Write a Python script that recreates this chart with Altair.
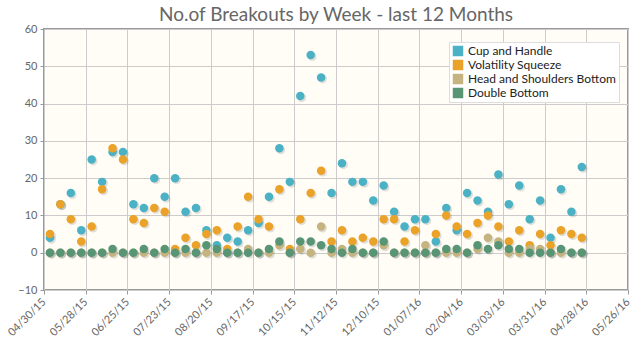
import altair as alt
import pandas as pd

# ---- data ----
weeks = [
    "2015-05-04", "2015-05-11", "2015-05-18", "2015-05-25", "2015-06-01", "2015-06-08",
    "2015-06-15", "2015-06-22", "2015-06-29", "2015-07-06", "2015-07-13", "2015-07-20",
    "2015-07-27", "2015-08-03", "2015-08-10", "2015-08-17", "2015-08-24", "2015-08-31",
    "2015-09-07", "2015-09-14", "2015-09-21", "2015-09-28", "2015-10-05", "2015-10-12",
    "2015-10-19", "2015-10-26", "2015-11-02", "2015-11-09", "2015-11-16", "2015-11-23",
    "2015-11-30", "2015-12-07", "2015-12-14", "2015-12-21", "2015-12-28", "2016-01-04",
    "2016-01-11", "2016-01-18", "2016-01-25", "2016-02-01", "2016-02-08", "2016-02-15",
    "2016-02-22", "2016-02-29", "2016-03-07", "2016-03-14", "2016-03-21", "2016-03-28",
    "2016-04-04", "2016-04-11", "2016-04-18", "2016-04-25",
]
cup_and_handle = [4, 13, 16, 6, 25, 19, 27, 27, 13, 12, 20, 15, 20, 11, 12, 6, 2, 4, 3, 6,
                  8, 15, 28, 19, 42, 53, 47, 16, 24, 19, 19, 14, 18, 11, 7, 9, 9, 3, 12, 6,
                  16, 14, 11, 21, 13, 18, 9, 14, 4, 17, 11, 23]
volatility_squeeze = [5, 13, 9, 3, 7, 17, 28, 25, 9, 8, 12, 11, 1, 4, 2, 5, 6, 1, 7, 15,
                      9, 7, 17, 1, 9, 16, 22, 3, 6, 3, 4, 3, 9, 9, 3, 6, 0, 5, 10, 7,
                      5, 8, 10, 7, 3, 6, 2, 5, 2, 6, 5, 4]
head_shoulders_bottom = [0, 0, 0, 0, 0, 0, 0, 0, 0, 0, 0, 0, 0, 0, 0, 0, 0, 0, 0, 1,
                         0, 0, 2, 0, 1, 0, 7, 0, 1, 0, 0, 0, 2, 0, 0, 0, 2, 0, 0, 0,
                         0, 1, 4, 3, 0, 0, 1, 1, 0, 0, 0, 0]
double_bottom = [0, 0, 0, 0, 0, 0, 1, 0, 0, 1, 0, 1, 0, 1, 0, 2, 1, 0, 0, 0,
                 0, 1, 3, 0, 3, 3, 2, 1, 0, 1, 0, 0, 3, 0, 0, 0, 0, 0, 1, 1,
                 0, 2, 1, 2, 1, 1, 0, 0, 0, 1, 0, 0]

series_names = ["Cup and Handle", "Volatility Squeeze", "Head and Shoulders Bottom", "Double Bottom"]
series_colors = ["#4bb2c5", "#eaa228", "#c5b47f", "#579575"]
series_values = [cup_and_handle, volatility_squeeze, head_shoulders_bottom, double_bottom]

x_ticks = ["2015-04-30", "2015-05-28", "2015-06-25", "2015-07-23", "2015-08-20",
           "2015-09-17", "2015-10-15", "2015-11-12", "2015-12-10", "2016-01-07",
           "2016-02-04", "2016-03-03", "2016-03-31", "2016-04-28", "2016-05-26"]
y_ticks = [-10, 0, 10, 20, 30, 40, 50, 60]
title_text = "No.of Breakouts by Week - last 12 Months"

# ---- table ----
rows = []
for name, vals in zip(series_names, series_values):
    for d, v in zip(weeks, vals):
        rows.append({"week": d, "count": v, "pattern": name})
df = pd.DataFrame(rows)

def ms(s):
    return int(pd.Timestamp(s, tz="UTC").value // 10**6)

tick_ms = [ms(t) for t in x_ticks]

FONT = "Lato"

x_enc = alt.X(
    "week:T",
    scale=alt.Scale(type="utc", domain=[tick_ms[0], tick_ms[-1]]),
    axis=alt.Axis(
        values=tick_ms, format="%m/%d/%y", labelAngle=315, labelAlign="right",
        labelBaseline="middle", labelPadding=6, labelOverlap=False, labelFlush=False,
        labelBound=False, title=None, domain=False, grid=True, gridColor="#cccccc",
        tickColor="#999999", tickSize=4, labelColor="#666666", labelFontSize=11,
        labelFont=FONT,
    ),
)
y_enc = alt.Y(
    "count:Q",
    scale=alt.Scale(domain=[-10, 60], nice=False, zero=False),
    axis=alt.Axis(
        values=y_ticks, title=None, domain=False, grid=True, gridColor="#cccccc",
        tickColor="#999999", tickSize=4, labelColor="#666666", labelFontSize=11,
        labelPadding=3, labelFont=FONT,
    ),
)

shadow = alt.Chart(df).mark_circle(
    size=78, color="#000000", opacity=0.12, xOffset=1.5, yOffset=1.5
).encode(x=x_enc, y=y_enc)

points = alt.Chart(df).mark_circle(size=72, opacity=1).encode(
    x=x_enc,
    y=y_enc,
    color=alt.Color(
        "pattern:N",
        scale=alt.Scale(domain=series_names, range=series_colors),
        sort=series_names,
        legend=alt.Legend(
            title=None, orient="none", legendX=405, legendY=13,
            symbolType="square", symbolSize=110, symbolStrokeWidth=0,
            labelFontSize=12, labelColor="#222222", labelFont=FONT,
            fillColor="#ffffff", strokeColor="#dddddd", padding=3,
            rowPadding=2, labelOffset=4, symbolOffset=0,
        ),
    ),
)

chart = (
    alt.layer(shadow, points)
    .properties(
        width=584, height=261,
        title=alt.TitleParams(
            title_text, fontSize=19, font=FONT, color="#666666",
            fontWeight="normal", anchor="middle", offset=-2,
        ),
        autosize=alt.AutoSizeParams(type="none"),
        padding={"left": 44, "top": 29, "right": 11, "bottom": 60},
        background="#ffffff",
    )
    .configure_view(fill="#fffdf6", stroke="#999999", strokeWidth=2)
)

chart.save("out.html", embed_options={"renderer": "svg", "actions": False})
